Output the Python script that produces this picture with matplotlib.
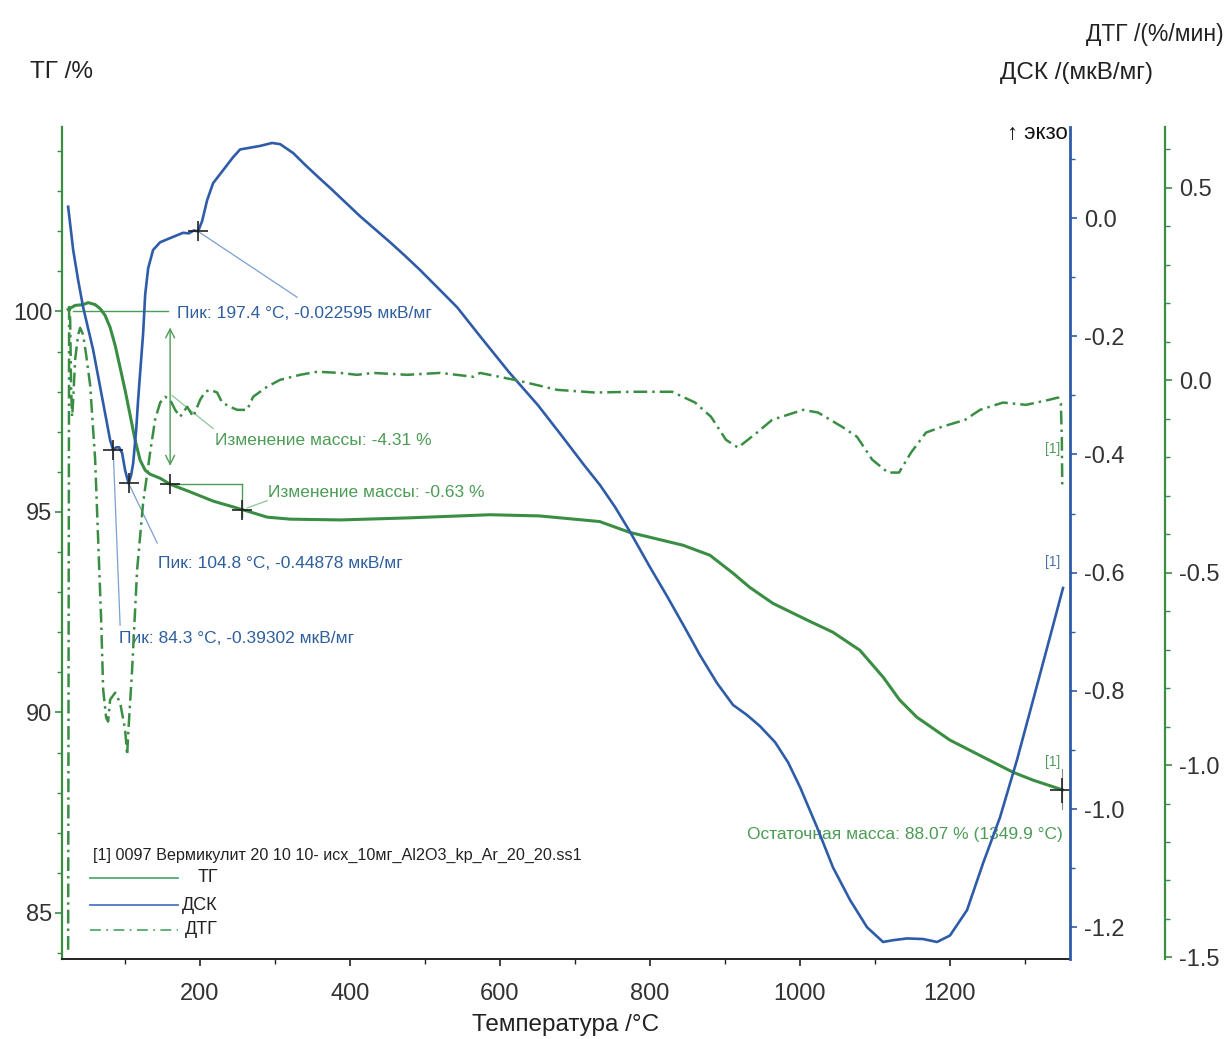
import matplotlib
matplotlib.use("Agg")
import matplotlib.pyplot as plt
from matplotlib.ticker import MultipleLocator, FormatStrFormatter
from matplotlib.lines import Line2D

plt.rcParams['font.family'] = ['Liberation Sans', 'DejaVu Sans']
plt.rcParams['axes.unicode_minus'] = False

# ---------------- data ----------------
tg_T = [24.2, 33.5, 44.2, 50.9, 60.2, 66.9, 73.5, 80.2, 86.9, 93.5, 100.2, 106.9, 113.5,
        120.2, 126.9, 133.5, 146.9, 160.2, 186.9, 217.5, 256.2, 289.5, 320.2, 387.0,
        476.0, 587.0, 653.0, 733.0, 773.0, 844.0, 880.0, 911.0, 933.0, 964.0, 1010.0,
        1044.0, 1080.0, 1111.0, 1133.0, 1156.0, 1200.0, 1244.0, 1284.0, 1311.0, 1349.9]
tg_val = [100.05, 100.15, 100.17, 100.22, 100.17, 100.07, 99.9, 99.6, 99.15, 98.6, 98.03,
          97.41, 96.79, 96.29, 96.04, 95.94, 95.84, 95.69, 95.5, 95.27, 95.06, 94.87,
          94.82, 94.8, 94.85, 94.93, 94.9, 94.76, 94.49, 94.17, 93.92, 93.47, 93.12,
          92.72, 92.3, 92.0, 91.55, 90.88, 90.31, 89.88, 89.31, 88.89, 88.51, 88.31, 88.07]

dsc_T = [24.2, 30.9, 37.5, 44.2, 57.5, 70.9, 80.2, 84.3, 88.2, 92.2, 96.2, 100.2, 104.8,
         108.2, 110.9, 114.9, 117.5, 121.5, 124.2, 126.9, 130.9, 137.5, 146.9, 160.2,
         177.5, 185.0, 192.0, 197.4, 202.9, 209.5, 217.5, 230.9, 244.2, 253.5, 266.9,
         280.2, 296.2, 306.9, 324.2, 340.2, 356.2, 373.5, 393.5, 413.5, 433.5, 453.5,
         473.5, 493.5, 520.2, 542.9, 573.5, 612.2, 650.9, 681.5, 712.2, 733.5, 753.5,
         773.5, 800.2, 822.9, 846.9, 866.9, 889.5, 910.9, 929.5, 946.9, 966.9, 984.2,
         1000.2, 1022.9, 1044.2, 1066.9, 1089.5, 1110.9, 1124.2, 1142.9, 1164.2, 1182.9,
         1200.2, 1222.9, 1244.2, 1266.9, 1289.5, 1310.9, 1333.5, 1350.9]
dsc_val = [0.019, -0.054, -0.105, -0.151, -0.223, -0.313, -0.376, -0.393, -0.388, -0.388,
           -0.398, -0.427, -0.449, -0.435, -0.415, -0.359, -0.308, -0.240, -0.195, -0.130,
           -0.085, -0.054, -0.041, -0.034, -0.025, -0.026, -0.021, -0.0226, -0.005, 0.030,
           0.059, 0.081, 0.103, 0.116, 0.119, 0.122, 0.127, 0.125, 0.110, 0.090, 0.071,
           0.051, 0.027, 0.003, -0.019, -0.041, -0.064, -0.088, -0.122, -0.151, -0.200,
           -0.261, -0.317, -0.367, -0.418, -0.452, -0.489, -0.531, -0.591, -0.640, -0.694,
           -0.740, -0.787, -0.824, -0.841, -0.860, -0.887, -0.921, -0.963, -1.031, -1.099,
           -1.154, -1.200, -1.225, -1.222, -1.219, -1.220, -1.225, -1.214, -1.171, -1.092,
           -1.014, -0.917, -0.816, -0.709, -0.626]

dtg_T = [24.2, 25.5, 26.9, 28.2, 29.5, 30.9, 33.5, 37.5, 40.2, 44.2, 48.2, 53.5, 60.2, 64.2,
         68.2, 70.9, 74.9, 77.5, 80.2, 86.9, 93.5, 100.2, 102.9, 104.2, 109.5, 116.2, 124.2,
         133.5, 140.2, 146.9, 153.5, 160.2, 166.9, 173.5, 182.9, 191.0, 200.2, 206.9, 213.5,
         222.9, 229.5, 240.2, 249.5, 262.9, 270.9, 289.5, 306.9, 333.5, 356.2, 386.9, 409.5,
         430.9, 476.2, 520.2, 564.2, 573.5, 624.2, 676.2, 726.9, 778.9, 829.5, 860.2, 881.5,
         901.5, 917.5, 942.9, 962.9, 1004.2, 1024.2, 1056.2, 1076.2, 1096.2, 1117.5, 1132.2,
         1148.2, 1168.2, 1189.5, 1220.2, 1240.2, 1270.9, 1301.5, 1332.2, 1344.2, 1348.0,
         1349.3, 1349.9]
dtg_val = [-1.48, 0.196, 0.157, -0.025, -0.095, -0.051, 0.053, 0.118, 0.136, 0.118, 0.066,
           -0.012, -0.206, -0.414, -0.622, -0.804, -0.877, -0.887, -0.830, -0.812, -0.838,
           -0.908, -0.974, -0.921, -0.752, -0.492, -0.318, -0.188, -0.102, -0.058, -0.043,
           -0.051, -0.077, -0.095, -0.069, -0.095, -0.051, -0.030, -0.025, -0.032, -0.058,
           -0.069, -0.077, -0.077, -0.043, -0.017, 0.001, 0.014, 0.022, 0.019, 0.014, 0.019,
           0.014, 0.019, 0.009, 0.019, -0.001, -0.025, -0.032, -0.030, -0.030, -0.058,
           -0.095, -0.155, -0.175, -0.136, -0.103, -0.077, -0.084, -0.121, -0.147, -0.206,
           -0.240, -0.240, -0.188, -0.136, -0.121, -0.103, -0.077, -0.058, -0.064, -0.051,
           -0.045, -0.060, -0.150, -0.280]

peak_T = [84.3, 104.8, 197.4]
peak_dsc = [-0.39302, -0.44878, -0.022595]
peak_labels = ['Пик: 84.3 °C, -0.39302 мкВ/мг',
               'Пик: 104.8 °C, -0.44878 мкВ/мг',
               'Пик: 197.4 °C, -0.022595 мкВ/мг']
mass_T = [160.2, 256.2]
mass_tg = [95.69, 95.06]
mass_labels = ['Изменение массы: -4.31 %', 'Изменение массы: -0.63 %']
resid_T, resid_tg = 1349.9, 88.07
resid_label = 'Остаточная масса: 88.07 % (1349.9 °C)'
file_label = '[1] 0097 Вермикулит 20 10 10- исх_10мг_Al2O3_kp_Ar_20_20.ss1'
legend_names = ['ТГ', 'ДСК', 'ДТГ']

# ---------------- style ----------------
GREEN = '#3a8e44'
GREEN_T = '#4c9c55'
BLUE = '#2e5ca8'
BLUE_T = '#2f5f9f'
DARK = '#333333'
DASHDOT = (0, (5.5, 2, 1, 2))
TICKFS = 16.5
ANNFS = 12.5

W, H = 1227, 1039
fig = plt.figure(figsize=(W / 100, H / 100), dpi=100)
L, R, T_, B = 62, 1070, 127, 959
ax = fig.add_axes([L / W, 1 - B / H, (R - L) / W, (B - T_) / H])
ax2 = ax.twinx()
ax3 = ax.twinx()

ax.set_xlim(16, 1360.2)
ax.set_ylim(83.85, 104.6)
ax2.set_ylim(-1.2538, 0.154)
ax3.set_ylim(-1.504, 0.658)

for a in (ax, ax2, ax3):
    a.patch.set_visible(False)
    a.spines['top'].set_visible(False)
ax.spines['right'].set_visible(False)
ax2.spines['left'].set_visible(False)
ax3.spines['left'].set_visible(False)
ax2.spines['bottom'].set_visible(False)
ax3.spines['bottom'].set_visible(False)
ax.spines['left'].set_color(GREEN)
ax.spines['left'].set_linewidth(1.6)
ax.spines['bottom'].set_color('#222222')
ax.spines['bottom'].set_linewidth(1.4)
ax2.spines['right'].set_color(BLUE)
ax2.spines['right'].set_linewidth(2.0)
ax3.spines['right'].set_color(GREEN)
ax3.spines['right'].set_linewidth(1.6)
ax3.spines['right'].set_position(('axes', (1165 - L) / (R - L)))

ax.xaxis.set_major_locator(MultipleLocator(200))
ax.xaxis.set_minor_locator(MultipleLocator(100))
ax.yaxis.set_major_locator(MultipleLocator(5))
ax.yaxis.set_minor_locator(MultipleLocator(1))
ax2.yaxis.set_major_locator(MultipleLocator(0.2))
ax2.yaxis.set_minor_locator(MultipleLocator(0.1))
ax2.yaxis.set_major_formatter(FormatStrFormatter('%.1f'))
ax3.yaxis.set_major_locator(MultipleLocator(0.5))
ax3.yaxis.set_minor_locator(MultipleLocator(0.1))
ax3.yaxis.set_major_formatter(FormatStrFormatter('%.1f'))

ax.tick_params(axis='x', which='major', direction='out', length=5, width=1.2,
               color='#222222', labelsize=TICKFS + 0.5, labelcolor=DARK, pad=12)
ax.tick_params(axis='x', which='minor', direction='out', length=3.5, width=1.0, color='#222222')
ax.tick_params(axis='y', which='major', direction='out', length=5, width=1.2,
               color=GREEN, labelsize=TICKFS + 0.5, labelcolor=DARK, pad=2)
ax.tick_params(axis='y', which='minor', direction='out', length=3.5, width=1.0, color=GREEN)
ax2.tick_params(axis='y', which='major', direction='out', length=5, width=1.2,
                color=BLUE, labelsize=TICKFS + 0.5, labelcolor=DARK, pad=5)
ax2.tick_params(axis='y', which='minor', direction='out', length=3.5, width=1.0, color=BLUE)
ax3.tick_params(axis='y', which='major', direction='out', length=5, width=1.2,
                color=GREEN, labelsize=TICKFS + 0.5, labelcolor=DARK, pad=5)
ax3.tick_params(axis='y', which='minor', direction='out', length=3.5, width=1.0, color=GREEN)

# ---------------- curves ----------------
ax.plot(tg_T, tg_val, color=GREEN, lw=2.2, zorder=3, solid_joinstyle='round')
ax2.plot(dsc_T, dsc_val, color=BLUE, lw=1.9, zorder=3, solid_joinstyle='round')
ax3.plot(dtg_T, dtg_val, color=GREEN, lw=1.8, linestyle=DASHDOT, zorder=3)

# ---------------- TG annotations ----------------
ax.plot([31, 157.5], [100.0, 100.0], color=GREEN_T, lw=1.0)
ax.annotate('', xy=(mass_T[0], 99.6), xytext=(mass_T[0], 96.15),
            arrowprops=dict(arrowstyle='<->', color=GREEN_T, lw=1.0, shrinkA=0, shrinkB=0,
                            mutation_scale=16))
ax.plot([mass_T[0], mass_T[1]], [mass_tg[0], mass_tg[0]], color=GREEN_T, lw=1.0)
ax.plot([mass_T[1], mass_T[1]], [mass_tg[0], 94.87], color=GREEN_T, lw=1.0)
ax.plot(mass_T, mass_tg, linestyle='none', marker='+', ms=15, mew=1.2, color='#222222', zorder=5)
ax.plot([163, 217.5], [97.9, 97.08], color='#8cc79a', lw=0.9)
ax.text(220, 96.79, mass_labels[0], color=GREEN_T, fontsize=ANNFS, va='center', ha='left')
ax.plot([263, 289.5], [95.1, 95.28], color='#8cc79a', lw=0.9)
ax.text(291, 95.49, mass_labels[1], color=GREEN_T, fontsize=ANNFS, va='center', ha='left')
ax.plot([resid_T], [resid_tg], linestyle='none', marker='+', ms=18, mew=1.2, color='#222222', zorder=5)
ax.plot([resid_T, resid_T], [88.6, 87.6], color='#888888', lw=0.8)
ax.text(resid_T, 86.96, resid_label, color=GREEN_T, fontsize=ANNFS, va='center', ha='right')
ax.text(1347, 88.76, '[1]', color='#4f9a5a', fontsize=10, va='center', ha='right')

# ---------------- DSC annotations ----------------
lead_end = [(93.5, -0.689), (143, -0.550), (329.5, -0.134)]
text_pos = [(92, -0.711), (144, -0.584), (169.5, -0.161)]
for i in range(3):
    ax2.plot([peak_T[i], lead_end[i][0]], [peak_dsc[i], lead_end[i][1]], color='#7aa0d0', lw=0.9)
    ax2.text(text_pos[i][0], text_pos[i][1], peak_labels[i], color=BLUE_T, fontsize=ANNFS,
             va='center', ha='left')
ax2.plot(peak_T, peak_dsc, linestyle='none', marker='+', ms=15, mew=1.2, color='#222222', zorder=5)
ax2.text(1347, -0.582, '[1]', color='#4a6fa8', fontsize=10, va='center', ha='right')
ax3.text(1347, -0.18, '[1]', color='#4f9a5a', fontsize=10, va='center', ha='right')

# ---------------- legend (drawn like the instrument software) ----------------
def ax_xy(px, py):
    return ((px - L) / (R - L), (B - py) / (B - T_))

tx, ty = ax_xy(93, 855)
ax.text(tx, ty, file_label, transform=ax.transAxes, fontsize=11.6, color='#222222',
        va='center', ha='left')
styles = [dict(color='#55aa70', lw=1.3, linestyle='-'),
          dict(color='#4a78c0', lw=1.3, linestyle='-'),
          dict(color='#55aa70', lw=1.3, linestyle=(0, (6, 3, 1, 3)))]
for i, (name, st) in enumerate(zip(legend_names, styles)):
    yy = [878, 905, 930][i]
    x0, y0 = ax_xy(90, yy)
    x1, _ = ax_xy(178, yy)
    ax.add_line(Line2D([x0, x1], [y0, y0], transform=ax.transAxes, **st))
    xr, _ = ax_xy(218, yy)
    ax.text(xr, y0, name, transform=ax.transAxes, fontsize=13, color='#222222',
            va='center', ha='right')

# ---------------- axis titles ----------------
fig.text(30 / W, 1 - 72 / H, 'ТГ /%', fontsize=17.5, color='#222222', ha='left', va='center')
fig.text(1000 / W, 1 - 73 / H, 'ДСК /(мкВ/мг)', fontsize=17.5, color='#222222', ha='left', va='center')
fig.text(1224 / W, 1 - 35 / H, 'ДТГ /(%/мин)', fontsize=16.5, color='#222222', ha='right', va='center')
fig.text(1068 / W, 1 - 133 / H, '↑ экзо', fontsize=16, color='#111111', ha='right', va='center')
fig.text(566 / W, 1 - 1025 / H, 'Температура /°C', fontsize=17.5, color='#222222', ha='center', va='center')

fig.savefig('out.png', dpi=100)
